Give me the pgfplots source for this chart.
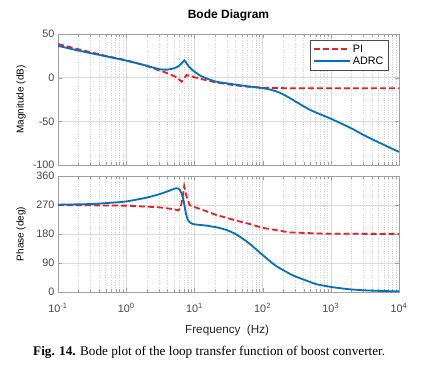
\documentclass[border=0pt]{standalone}
\usepackage{pgfplots}
\pgfplotsset{compat=1.18}
\usepackage{fontspec}
\setmainfont{Liberation Sans}
\newfontfamily\capfont{Liberation Serif}
\definecolor{piRed}{RGB}{235,30,35}
\definecolor{adrcBlue}{RGB}{0,114,189}
\definecolor{tickGray}{RGB}{70,70,70}

\pgfplotstableread{
f db
0.1 36.5
0.2 31
0.5 24.5
1 19.5
2 13.7
3 9.8
4 9.2
5 10.7
6 13.7
6.5 16.4
7.1 19.8
7.6 17
8.1 13.7
9.6 8
12 2.7
15 -0.8
21 -4.6
33 -7
60 -9.8
100 -12
130 -13.7
170 -16.5
220 -20.8
300 -27
500 -37
1000 -47
2000 -58
3000 -65.5
5000 -74
10000 -85
}\adrcmag

\pgfplotstableread{
f db
0.1 38.5
0.2 32.5
0.5 25
1 20
2 13.5
3 8.5
3.5 6.9
4.5 3.5
5.5 0.4
6.5 -4.6
7.7 3
9 1.5
12 -1
15 -3
21 -5.5
37 -8.5
60 -10.3
100 -11.5
200 -12
1000 -12.2
10000 -12.2
}\pimag

\pgfplotstableread{
f ph
0.1 271
0.3 273
0.6 277
1 281
2 293
3 303
4 312
5 320
5.4 322
6 319
6.5 305
7 280
7.5 245
8.1 222
9 213
10 210
15 206
22 200
30 192
40 180
55 161
75 138
100 115
150 84
200 68
270 53
350 43
420 37
620 24
1100 14.5
1900 8.4
3300 5
6000 3
10000 2
}\adrcph

\pgfplotstableread{
f ph
0.1 270
1 268
3 263
5 257
5.8 253
6.3 262
6.8 300
7.1 329
7.6 300
8.5 270
9.6 265
12 258
21 239
30 230
42 221
65 211
100 199
250 185
800 181
10000 180
}\piph

\pgfplotsset{
  bodeaxis/.style={
    scale only axis,
    width=341bp,
    xmin=0.1, xmax=10000,
    axis line style={draw=gray!75},
    tick style={gray!75},
    tick align=inside,
    xmajorgrids, xminorgrids, ymajorgrids,
    major grid style={gray!30, line width=0.4pt},
    minor grid style={gray!35, dotted, line width=0.4pt},
    tick label style={font=\fontsize{10.8bp}{12bp}\selectfont, text=tickGray},
    label style={font=\fontsize{11.7bp}{13bp}\selectfont, text=black!85},
    /pgf/number format/assume math mode=true,
    xtick={0.1,1,10,100,1000,10000},
    every axis y label/.style={at={(axis description cs:-0.108,0.5)}, rotate=90, anchor=center},
  },
}

\begin{document}
\begin{tikzpicture}
\path[use as bounding box] (0bp,0bp) rectangle (428bp,-375bp);

\begin{semilogxaxis}[bodeaxis,
  at={(58bp,-34bp)}, anchor=north west,
  height=131bp,
  ymin=-100, ymax=50,
  ytick={-100,-50,0,50},
  xticklabels={},
  ylabel={Magnitude (dB)},
  title={\textbf{Bode Diagram}},
  title style={font=\fontsize{12bp}{14bp}\selectfont, at={(axis description cs:0.5,1)}, anchor=south, yshift=3bp},
  legend style={at={(0.968,0.954)}, anchor=north east, draw=black!70, fill=white,
    font=\fontsize{10.8bp}{12bp}\selectfont, row sep=-1bp, inner sep=2.5bp},
  legend cell align=left,
  legend image code/.code={\draw[#1] (0bp,0bp) -- (36bp,0bp);},
]
\addplot[piRed, line width=1.8bp, dash pattern=on 6bp off 3bp] table[x=f,y=db] {\pimag};
\addlegendentry{PI}
\addplot[adrcBlue, line width=1.8bp, smooth, tension=0.4] table[x=f,y=db] {\adrcmag};
\addlegendentry{ADRC}
\end{semilogxaxis}

\begin{semilogxaxis}[bodeaxis,
  at={(58bp,-176bp)}, anchor=north west,
  height=116bp,
  ymin=0, ymax=360,
  ytick={0,90,180,270,360},
  xticklabels={10\textsuperscript{-1},10\textsuperscript{0},10\textsuperscript{1},10\textsuperscript{2},10\textsuperscript{3},10\textsuperscript{4}},
  xticklabel style={yshift=-8bp},
  ylabel={Phase (deg)},
  xlabel={Frequency\ \ (Hz)},
  xlabel style={at={(axis description cs:0.496,-0.33)}, anchor=center},
]
\addplot[piRed, line width=1.8bp, dash pattern=on 6bp off 3bp] table[x=f,y=ph] {\piph};
\addplot[adrcBlue, line width=1.8bp, smooth, tension=0.4] table[x=f,y=ph] {\adrcph};
\end{semilogxaxis}

\node[anchor=base west, inner sep=0pt, font=\capfont\fontsize{13.2bp}{15bp}\selectfont] at (33bp,-355bp)
  {\textbf{Fig. 14.} Bode plot of the loop transfer function of boost converter.};
\end{tikzpicture}
\end{document}
